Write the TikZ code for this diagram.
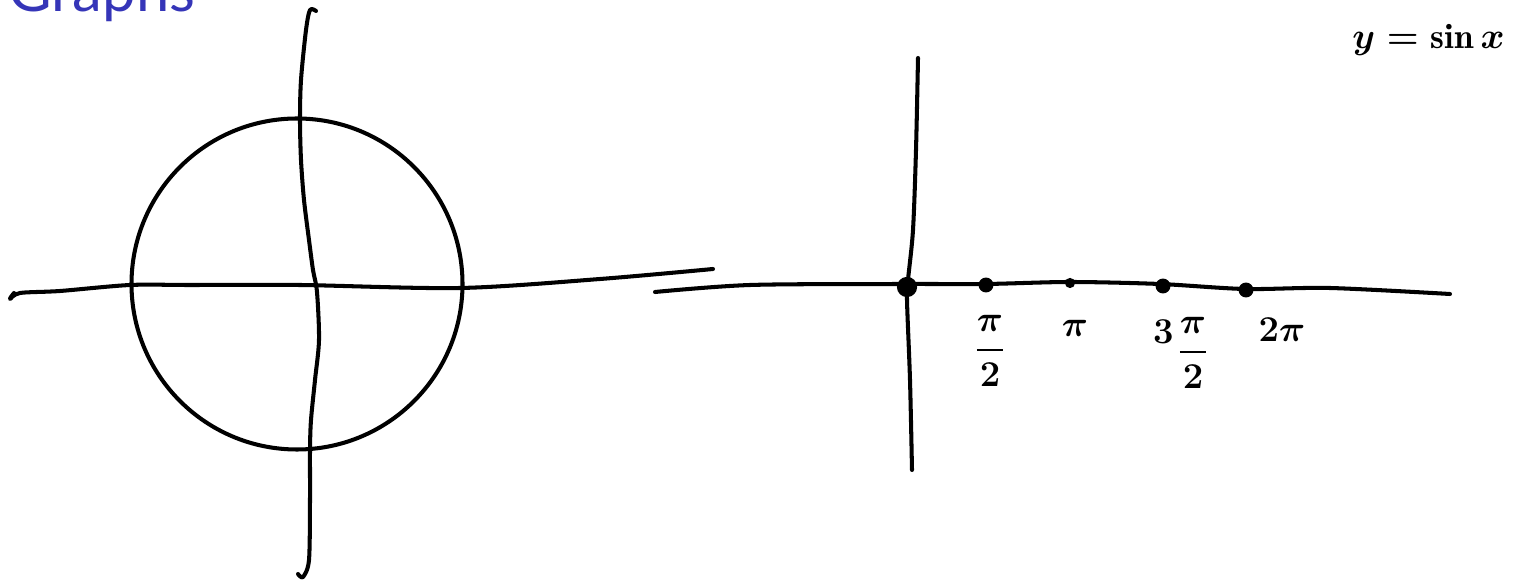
\documentclass[tikz,border=0pt]{standalone}
\usepackage{amsmath}
\usepackage{fontspec}
\setsansfont{Lato}
\definecolor{titleblue}{HTML}{3535B8}
\definecolor{ink}{HTML}{000000}

\begin{document}
\begin{tikzpicture}[
    x=0.02cm, y=-0.02cm,
    pen/.style={draw=ink, line width=2.3pt, line cap=round, line join=round},
    tick/.style={circle, fill=ink, inner sep=0pt, minimum size=#1},
    lab/.style={font=\fontsize{22}{26}\selectfont\boldmath, text=ink, inner sep=0pt},
    title/.style={font=\sffamily\fontsize{34}{40}\selectfont, text=titleblue, inner sep=0pt},
]
\useasboundingbox (0,0) rectangle (1515,580);

% ── Title (cut off at the top) ──
\node[title, anchor=base west] (title) at (8,12) {Graphs};

% ── Unit circle sketch ──
\draw[pen] plot[smooth] coordinates {(14,293) (10,299) (20,293) (60,291) (130,285) (190,285) (300,285) (460,288) (600,279) (713,269)};
\draw[pen] plot[smooth] coordinates {(316,11) (310,10) (306,30) (301,80) (300,120) (301,160) (304,200) (309,240) (313,270) (317,292) (319,340) (315,380) (311,420) (310,450) (310,500) (309,560) (303,577) (298,574)};
\draw[pen] (297,284) circle[radius=165.5];

% ── Sine axes ──
\draw[pen] plot[smooth] coordinates {(655,292) (750,285) (900,284) (985,284) (1070,282) (1160,284) (1245,289) (1330,288) (1450,294)};
\draw[pen] plot[smooth] coordinates {(918,58) (916,150) (913,230) (908,280) (907,300) (910,380) (912,470)};

% ── Marked points ──
\node[tick=11.5pt] (o)    at (907,287) {};
\node[tick=8.5pt]  (half) at (986,285) {};
\node[tick=5.8pt]  (pi)   at (1070,283) {};
\node[tick=8.5pt]  (tri)  at (1163,286) {};
\node[tick=8.5pt]  (full) at (1246,290) {};

% ── Labels ──
\node[lab] (lhalf) at (990,351) {$\dfrac{\pi}{2}$};
\node[lab] (lpi)   at (1075,328) {$\pi$};
\node[lab] (ltri)  at (1193,353) {$\dfrac{\pi}{2}$};
\node[lab, anchor=east] (lthree) at ([xshift=-2pt,yshift=12pt]ltri.west) {$3$};
\node[lab] (lfull) at (1282,330) {$2\pi$};

% ── Function name ──
\node[lab, font=\fontsize{20}{24}\selectfont\boldmath, anchor=east] (fn) at (1505,40) {$y = \sin x$};

\end{tikzpicture}
\end{document}
